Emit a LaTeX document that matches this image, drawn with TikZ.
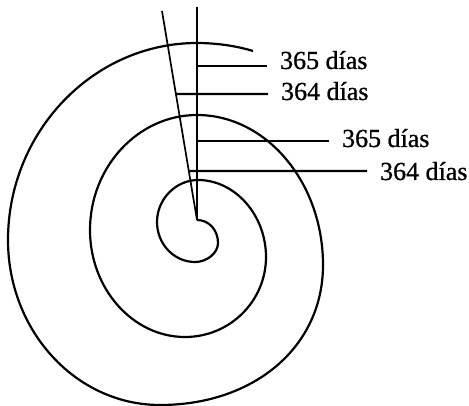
\documentclass[tikz,border=0pt]{standalone}
\usepackage{fontspec}
\setmainfont{Liberation Serif}
\usepackage{tikz}

\begin{document}
\begin{tikzpicture}[x=1pt, y=-1pt, line width=2.2pt,
    lbl/.style={font=\fontsize{26}{30}\selectfont\addfontfeatures{FakeBold=0.8}, anchor=base west, inner xsep=12pt, inner ysep=0pt}]
  \useasboundingbox (0,0) rectangle (469,406);
  % shell spiral, from the centre outwards (quarter turns)
  \draw (197,220) .. controls (209,220) and (218,230) .. (218,243)
    .. controls (218,253) and (207,262) .. (195,262)
    .. controls (174,262) and (157,244) .. (157,222)
    .. controls (157,199) and (176,180) .. (198,180)
    .. controls (235,180) and (266,215) .. (266,257)
    .. controls (266,301) and (230,337) .. (185,337)
    .. controls (133,337) and (90,289) .. (90,230)
    .. controls (90,167) and (138,115) .. (197,115)
    .. controls (266,115) and (323,182) .. (323,265)
    .. controls (323,347) and (254,405) .. (160,405)
    .. controls (76,405) and (8,331) .. (8,240)
    .. controls (8,132) and (93,43) .. (197,43)
    .. controls (220,43) and (240,47) .. (253,51);
  % the two rays from the centre
  \coordinate (apex) at (197,220);
  \coordinate (vtop) at (197,7);
  \coordinate (stop) at (162,11);
  \draw (apex) -- (vtop);
  \draw[line width=1.7pt] (apex) -- (stop);
  % labels, set on their baselines
  \node[lbl] (d1) at (267,69) {365 días};
  \node[lbl] (d2) at (268,100) {364 días};
  \node[lbl] (d3) at (329,147) {365 días};
  \node[lbl] (d4) at (367,180) {364 días};
  % ends of the year lines
  \coordinate (e1) at (d1.west |- 0,66);
  \coordinate (e2) at (d2.west |- 0,94);
  \coordinate (e3) at (d3.west |- 0,141);
  \coordinate (e4) at (d4.west |- 0,171);
  \draw (vtop |- e1) -- (e1);
  \draw (intersection of apex--stop and e2--vtop |- e2) -- (e2);
  \draw (vtop |- e3) -- (e3);
  \draw (intersection of apex--stop and e4--vtop |- e4) -- (e4);
\end{tikzpicture}
\end{document}
